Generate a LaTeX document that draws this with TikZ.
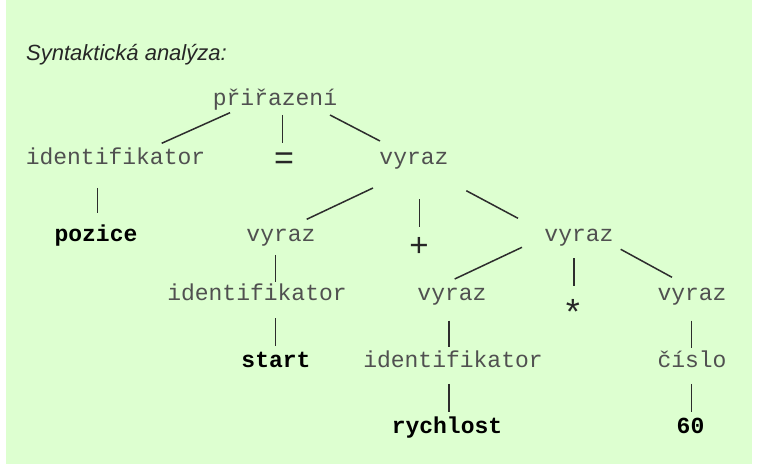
\documentclass[tikz,border=0pt]{standalone}
\usepackage{fontspec}
\setmainfont{Liberation Sans}
\newfontfamily\monofont{Liberation Mono}
\definecolor{bggreen}{RGB}{221,255,208}
\definecolor{txtgray}{RGB}{80,80,80}
\definecolor{linegray}{RGB}{45,45,45}
\begin{document}
\begin{tikzpicture}[x=1pt,y=-1pt,
  lbl/.style={inner sep=0pt,anchor=base,text=txtgray,font=\monofont\fontsize{23}{26}\selectfont},
  leaf/.style={inner sep=0pt,anchor=base,text=black,font=\monofont\bfseries\fontsize{23}{26}\selectfont},
  sym/.style={inner sep=0pt,anchor=center,text=black!85},
  edge/.style={draw=linegray,line width=1.5pt}]
\useasboundingbox (0,0) rectangle (758,470);
\fill[white] (0,0) rectangle (758,470);
\fill[bggreen] (6,0) rectangle (752,464);
\node[inner sep=0pt,anchor=base west,text=black!85,font=\itshape\fontsize{22}{24}\selectfont] (title) at (26,60.5) {Syntaktická analýza:};
% nodes
\node[lbl] (pr) at (275,106) {přiřazení};
\node[lbl] (id1) at (115.5,165) {identifikator};
\node[sym,font=\monofont\fontsize{34}{36}\selectfont] (eq) at (284,161) {=};
\node[lbl] (v1) at (414,165) {vyraz};
\node[leaf] (poz) at (96,242) {pozice};
\node[lbl] (v2) at (281,242) {vyraz};
\node[sym,font=\monofont\fontsize{33}{36}\selectfont] (plus) at (419,246.5) {+};
\node[lbl] (v3) at (579,242) {vyraz};
\node[lbl] (id2) at (257,301) {identifikator};
\node[lbl] (v4) at (452,301) {vyraz};
\node[sym,font=\monofont\fontsize{36}{40}\selectfont] (star) at (573,312) {*};
\node[lbl] (v5) at (692,301) {vyraz};
\node[leaf] (st) at (276,367) {start};
\node[lbl] (id3) at (453,367) {identifikator};
\node[lbl] (cis) at (692,367) {číslo};
\node[leaf] (ry) at (447,433) {rychlost};
\node[leaf] (sixty) at (690.5,433) {60};
% connector end points
\coordinate (a1) at (230,112.7); \coordinate (b1) at (161.7,143.3);
\coordinate (a2) at (282.7,115); \coordinate (b2) at (282.7,142.7);
\coordinate (a3) at (330,115);   \coordinate (b3) at (380,141);
\coordinate (a4) at (97.7,188);  \coordinate (b4) at (97.7,213.3);
\coordinate (a5) at (373,188);   \coordinate (b5) at (306.7,219.3);
\coordinate (a6) at (419.7,199.5); \coordinate (b6) at (419.7,227);
\coordinate (a7) at (466.3,190.7); \coordinate (b7) at (518,218.3);
\coordinate (a8) at (275.3,255);   \coordinate (b8) at (275.3,281.7);
\coordinate (a9) at (275.3,318.3); \coordinate (b9) at (275.3,346);
\coordinate (a10) at (522,247.3);  \coordinate (b10) at (454.7,279);
\coordinate (a11) at (574,258.3);  \coordinate (b11) at (574,286);
\coordinate (a12) at (620.7,249.3); \coordinate (b12) at (672,277.3);
\coordinate (a13) at (449,320.7);  \coordinate (b13) at (449,347.3);
\coordinate (a14) at (449,384);    \coordinate (b14) at (449,411.7);
\coordinate (a15) at (691.3,320.7); \coordinate (b15) at (691.3,348.3);
\coordinate (a16) at (691.3,384);  \coordinate (b16) at (691.3,411.7);
\foreach \i in {1,...,16} {\draw[edge] (a\i) -- (b\i);}
\end{tikzpicture}
\end{document}
